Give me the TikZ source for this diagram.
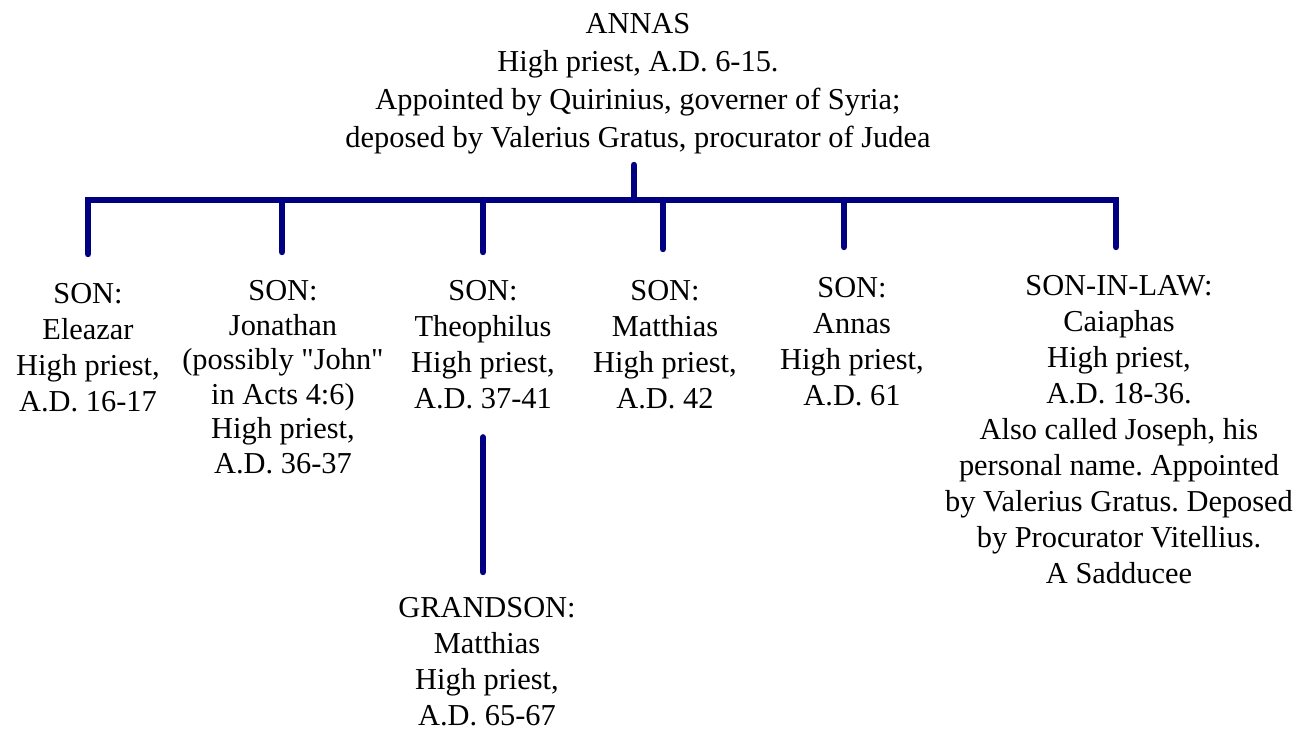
\documentclass[tikz,border=0pt]{standalone}
\usepackage{fontspec}
\setmainfont{Liberation Serif}
\definecolor{treeblue}{RGB}{0,0,128}
\frenchspacing

\begin{document}
\begin{tikzpicture}[x=0.5pt,y=-0.5pt,
    person/.style={anchor=north,align=center,inner sep=0pt,font=\fontsize{15.2}{18}\selectfont},
    tie/.style={draw=treeblue,line width=3.2pt,line cap=round}]
    \useasboundingbox (0,0) rectangle (1313,732);

    \node[person,font=\fontsize{15.2}{19}\selectfont] at (638,13) (annas0)
      {ANNAS\\High priest, A.D. 6-15.\\Appointed by Quirinius, governer of Syria;\\deposed by Valerius Gratus, procurator of Judea};

    \node[person] at (88,283) (eleazar) {SON:\\Eleazar\\High priest,\\A.D. 16-17};
    \node[person,font=\fontsize{15.2}{17.3}\selectfont] at (283,280) (jonathan)
      {SON:\\Jonathan\\(possibly \textquotedbl John\textquotedbl\\in Acts 4:6)\\High priest,\\A.D. 36-37};
    \node[person] at (483,280) (theophilus) {SON:\\Theophilus\\High priest,\\A.D. 37-41};
    \node[person] at (665,280) (matthias) {SON:\\Matthias\\High priest,\\A.D. 42};
    \node[person] at (852,277) (annas) {SON:\\Annas\\High priest,\\A.D. 61};
    \node[person] at (1119,275) (caiaphas)
      {SON-IN-LAW:\\Caiaphas\\High priest,\\A.D. 18-36.\\Also called Joseph, his\\personal name. Appointed\\by Valerius Gratus. Deposed\\by Procurator Vitellius.\\A Sadducee};
    \node[person] at (487,597) (grandson) {GRANDSON:\\Matthias\\High priest,\\A.D. 65-67};

    % the bracket under Annas
    \coordinate (stem) at (634,165);
    \coordinate (bar) at (634,200);
    \foreach \n/\x/\y in {eleazar/88/254, jonathan/282/252, theophilus/483/252,
                          matthias/663/249, annas/844/247, caiaphas/1116/247}
      \coordinate (\n-drop) at (\x,\y);

    \draw[tie] (stem) -- (bar);
    \draw[tie] (eleazar-drop) |- (bar) -| (caiaphas-drop);
    \foreach \n in {jonathan,theophilus,matthias,annas}
      \draw[tie] (\n-drop) -- (\n-drop |- bar);

    \draw[tie,shorten <=14pt,shorten >=12.5pt] (theophilus.south) -- (theophilus.south |- grandson.north);
  \end{tikzpicture}
\end{document}
